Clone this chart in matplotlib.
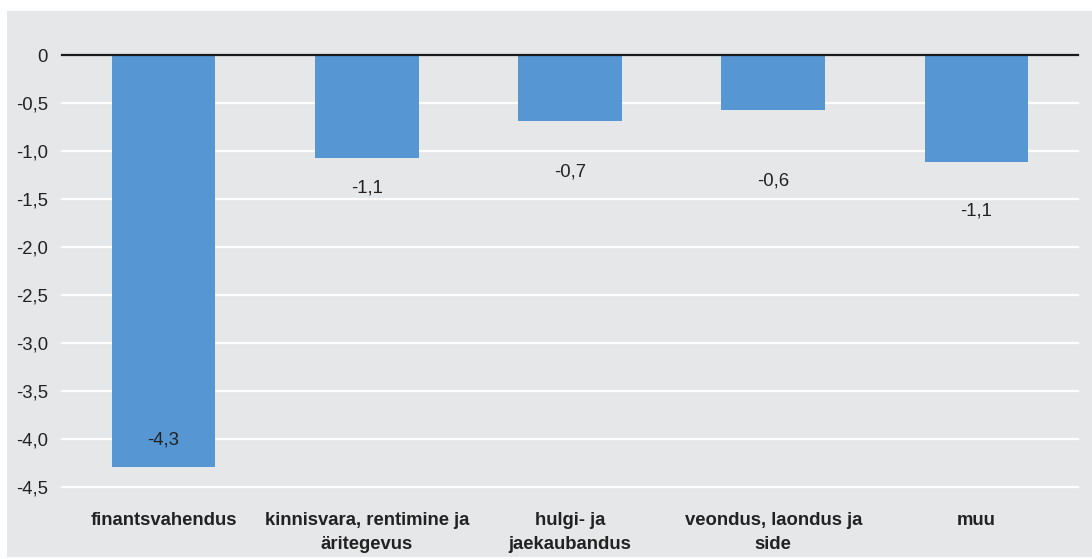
import matplotlib
matplotlib.use("Agg")
import matplotlib.pyplot as plt

plt.rcParams['font.family'] = ['Liberation Sans', 'DejaVu Sans']

categories = ["finantsvahendus", "kinnisvara, rentimine ja\näritegevus",
              "hulgi- ja\njaekaubandus", "veondus, laondus ja\nside", "muu"]
values = [-4.29, -1.07, -0.69, -0.57, -1.11]
value_labels = ["-4,3", "-1,1", "-0,7", "-0,6", "-1,1"]
label_y = [-4.01, -1.385, -1.22, -1.31, -1.625]
yticks = [0, -0.5, -1.0, -1.5, -2.0, -2.5, -3.0, -3.5, -4.0, -4.5]
ytick_labels = ["0", "-0,5", "-1,0", "-1,5", "-2,0", "-2,5", "-3,0", "-3,5", "-4,0", "-4,5"]

W, H = 1092, 559
FS = 13.3
fig = plt.figure(figsize=(W / 100, H / 100), dpi=100, facecolor="white")
bg = "#e6e7e9"
bgax = fig.add_axes([7 / W, 1 - 557 / H, (W - 7) / W, (557 - 11) / H], zorder=-1)
bgax.set_facecolor(bg)
bgax.set_xticks([])
bgax.set_yticks([])
for s in bgax.spines.values():
    s.set_visible(False)

ax = fig.add_axes([62 / W, 1 - 487 / H, (1078 - 62) / W, (487 - 55) / H], zorder=1)
ax.set_facecolor("none")
x = list(range(len(categories)))
ax.bar(x, values, width=0.51, color="#5596d3", zorder=2)
ax.set_xlim(-0.5, len(categories) - 0.5)
ax.set_ylim(-4.5, 0)
ax.set_yticks(yticks)
ax.set_yticklabels(ytick_labels, fontsize=FS, color="#222222")
for t in yticks[1:]:
    ax.axhline(t, color="white", lw=1.6, zorder=1, clip_on=False)
ax.axhline(0, color="#1a1a1a", lw=1.6, zorder=3, clip_on=False)
ax.tick_params(axis="y", length=0, pad=10)
ax.set_xticks(x)
ax.set_xticklabels(categories, fontsize=FS, fontweight="bold", color="#222222", linespacing=1.55)
ax.tick_params(axis="x", length=0, pad=18)
for s in ax.spines.values():
    s.set_visible(False)

for xi, lab, ly in zip(x, value_labels, label_y):
    ax.text(xi, ly, lab, ha="center", va="center", fontsize=FS, color="#222222", zorder=4)

fig.savefig("out.png", dpi=100, facecolor="white")
